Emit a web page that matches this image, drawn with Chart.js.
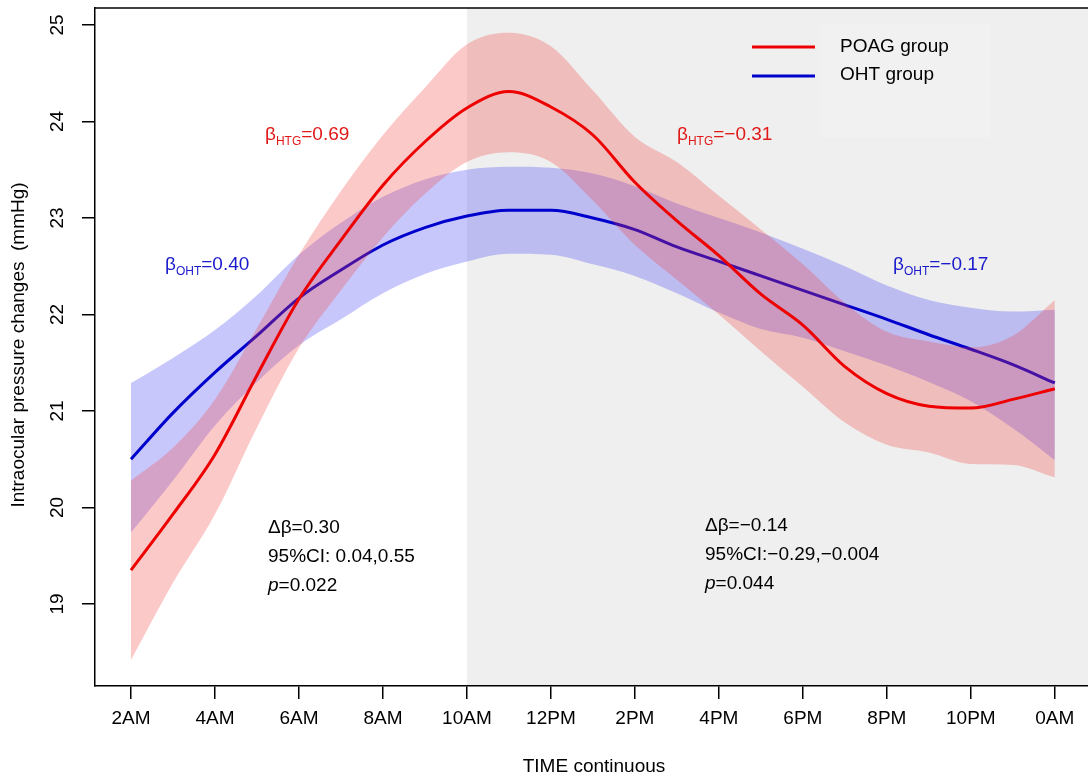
<!DOCTYPE html>
<html>
<head>
<meta charset="utf-8">
<script src="https://cdn.jsdelivr.net/npm/chart.js@4.4.1/dist/chart.umd.min.js"></script>
<style>
  html, body { margin: 0; padding: 0; background: #fff; overflow: hidden; }
  canvas { display: block; }
</style>
</head>
<body>
<canvas id="iop" width="1088" height="778"></canvas>
<script>
"use strict";

// hours after 2AM, one point per hour
const hours = [0, 1, 2, 3, 4, 5, 6, 7, 8, 9, 10, 11, 12, 13, 14, 15, 16, 17, 18, 19, 20, 21, 22];

// POAG group fit + 95% band
const poagFit   = [19.35, 19.93, 20.55, 21.37, 22.16, 22.77, 23.34, 23.79, 24.14, 24.31, 24.15, 23.86, 23.37, 22.97, 22.61, 22.21, 21.89, 21.46, 21.18, 21.05, 21.03, 21.12, 21.23];
const poagUpper = [20.28, 20.62, 21.12, 21.86, 22.62, 23.28, 23.86, 24.35, 24.80, 24.92, 24.78, 24.32, 23.84, 23.58, 23.23, 22.88, 22.52, 22.12, 21.82, 21.72, 21.66, 21.78, 22.15];
const poagLower = [18.42, 19.22, 19.93, 20.83, 21.65, 22.25, 22.80, 23.25, 23.58, 23.68, 23.58, 23.18, 22.72, 22.36, 22.00, 21.62, 21.25, 20.88, 20.65, 20.57, 20.45, 20.44, 20.31];

// OHT group fit + 95% band
const ohtFit   = [20.50, 20.98, 21.40, 21.78, 22.17, 22.46, 22.72, 22.90, 23.02, 23.08, 23.08, 23.00, 22.88, 22.70, 22.55, 22.40, 22.25, 22.10, 21.95, 21.79, 21.64, 21.48, 21.29];
const ohtUpper = [21.29, 21.55, 21.84, 22.20, 22.62, 22.95, 23.22, 23.40, 23.50, 23.53, 23.52, 23.46, 23.33, 23.15, 23.00, 22.85, 22.68, 22.50, 22.30, 22.15, 22.07, 22.03, 22.05];
const ohtLower = [19.74, 20.28, 20.85, 21.30, 21.68, 21.95, 22.22, 22.42, 22.55, 22.63, 22.62, 22.52, 22.40, 22.22, 22.02, 21.85, 21.76, 21.62, 21.47, 21.30, 21.10, 20.82, 20.49];

const xTickPos    = [0, 2, 4, 6, 8, 10, 12, 14, 16, 18, 20, 22];
const xTickLabels = ['2AM', '4AM', '6AM', '8AM', '10AM', '12PM', '2PM', '4PM', '6PM', '8PM', '10PM', '0AM'];
const yTicks = [19, 20, 21, 22, 23, 24, 25];

const shadeFrom = 8; // 10AM onwards is shaded

const FONT = "'Liberation Sans', Arial, sans-serif";

function pts(ys) {
  return hours.map((h, i) => ({ x: h, y: ys[i] }));
}

function band(ys, fill, color, order) {
  return {
    data: pts(ys),
    borderWidth: 0,
    pointRadius: 0,
    fill: fill,
    backgroundColor: color,
    cubicInterpolationMode: 'monotone',
    order: order
  };
}

// beta label with subscript
function beta(ctx, x, y, sub, rest, color) {
  ctx.fillStyle = color;
  ctx.textAlign = 'left';
  ctx.textBaseline = 'alphabetic';
  ctx.font = '19px ' + FONT;
  ctx.fillText('\u03b2', x, y);
  let w = ctx.measureText('\u03b2').width;
  ctx.font = '12px ' + FONT;
  ctx.fillText(sub, x + w, y + 5);
  w += ctx.measureText(sub).width;
  ctx.font = '19px ' + FONT;
  ctx.fillText(rest, x + w, y);
}

const decor = {
  id: 'decor',
  beforeDraw(chart) {
    const { ctx, chartArea: a, scales } = chart;
    const xs = scales.x.getPixelForValue(shadeFrom);
    ctx.save();
    ctx.fillStyle = '#efefef';
    ctx.fillRect(xs, a.top, a.right - xs, a.bottom - a.top);
    // legend panel, a touch lighter
    ctx.fillStyle = '#f1f1f1';
    ctx.fillRect(820, 24, 170, 114);
    ctx.restore();
  },
  afterDraw(chart) {
    const { ctx, chartArea: a, scales } = chart;
    ctx.save();
    // top border of the box
    ctx.strokeStyle = '#000';
    ctx.lineWidth = 1.5;
    ctx.beginPath();
    ctx.moveTo(a.left, a.top);
    ctx.lineTo(a.right, a.top);
    ctx.stroke();

    // y tick labels, rotated like base R
    ctx.fillStyle = '#000';
    ctx.font = '19px ' + FONT;
    ctx.textAlign = 'center';
    ctx.textBaseline = 'middle';
    yTicks.forEach(v => {
      const y = scales.y.getPixelForValue(v);
      ctx.save();
      ctx.translate(58, y);
      ctx.rotate(-Math.PI / 2);
      ctx.fillText(String(v), 0, 0);
      ctx.restore();
    });

    // axis titles
    ctx.font = '19px ' + FONT;
    ctx.save();
    ctx.translate(19, 345);
    ctx.rotate(-Math.PI / 2);
    ctx.fillText('Intraocular pressure changes  (mmHg)', 0, 0);
    ctx.restore();
    ctx.fillText('TIME continuous', 594, 767);

    // legend
    ctx.lineWidth = 3;
    ctx.strokeStyle = '#ee0000';
    ctx.beginPath(); ctx.moveTo(752, 47); ctx.lineTo(815, 47); ctx.stroke();
    ctx.strokeStyle = '#0000cc';
    ctx.beginPath(); ctx.moveTo(752, 76); ctx.lineTo(815, 76); ctx.stroke();
    ctx.fillStyle = '#000';
    ctx.textAlign = 'left';
    ctx.font = '19px ' + FONT;
    ctx.fillText('POAG group', 840, 47);
    ctx.fillText('OHT group', 840, 75);

    // slopes
    beta(ctx, 265, 140, 'HTG', '=0.69', '#e01818');
    beta(ctx, 677, 140, 'HTG', '=\u22120.31', '#e01818');
    beta(ctx, 165, 270, 'OHT', '=0.40', '#1a1acc');
    beta(ctx, 893, 270, 'OHT', '=\u22120.17', '#1a1acc');

    // difference stats
    ctx.fillStyle = '#000';
    ctx.textBaseline = 'middle';
    ctx.font = '19px ' + FONT;
    ctx.fillText('\u0394\u03b2=0.30', 268, 528);
    ctx.fillText('95%CI: 0.04,0.55', 268, 557);
    ctx.font = 'italic 19px ' + FONT;
    ctx.fillText('p', 268, 586);
    let pw = ctx.measureText('p').width;
    ctx.font = '19px ' + FONT;
    ctx.fillText('=0.022', 268 + pw, 586);

    ctx.fillText('\u0394\u03b2=\u22120.14', 705, 526);
    ctx.fillText('95%CI:\u22120.29,\u22120.004', 705, 555);
    ctx.font = 'italic 19px ' + FONT;
    ctx.fillText('p', 705, 584);
    pw = ctx.measureText('p').width;
    ctx.font = '19px ' + FONT;
    ctx.fillText('=0.044', 705 + pw, 584);
    ctx.restore();
  }
};

const chart = new Chart(document.getElementById('iop'), {
  type: 'line',
  data: {
    datasets: [
      { data: pts(poagFit), borderColor: '#ee0000', borderWidth: 3, pointRadius: 0, fill: false, cubicInterpolationMode: 'monotone', order: 1 },
      { data: pts(ohtFit), borderColor: '#0000cc', borderWidth: 3, pointRadius: 0, fill: false, cubicInterpolationMode: 'monotone', order: 4 },
      band(poagUpper, '+1', 'rgba(245, 60, 60, 0.28)', 3),
      band(poagLower, false, 'rgba(0,0,0,0)', 3),
      band(ohtUpper, '+1', 'rgba(70, 70, 245, 0.30)', 5),
      band(ohtLower, false, 'rgba(0,0,0,0)', 5)
    ]
  },
  options: {
    responsive: false,
    animation: false,
    layout: { padding: { top: 8, right: 0, left: 0, bottom: 0 } },
    plugins: {
      legend: { display: false },
      tooltip: { enabled: false }
    },
    scales: {
      x: {
        type: 'linear',
        min: -0.857,
        max: 22.79,
        afterBuildTicks: s => { s.ticks = xTickPos.map(v => ({ value: v })); },
        afterFit: s => { s.height = 92; },
        border: { display: true, color: '#000', width: 1.5 },
        grid: { drawOnChartArea: false, drawTicks: true, tickLength: 13, color: '#000', lineWidth: 1.5 },
        ticks: {
          autoSkip: false,
          maxRotation: 0,
          padding: 8,
          color: '#000',
          font: { family: FONT, size: 19 },
          callback: v => xTickLabels[xTickPos.indexOf(v)]
        }
      },
      y: {
        min: 18.15,
        max: 25.176,
        afterBuildTicks: s => { s.ticks = yTicks.map(v => ({ value: v })); },
        afterFit: s => { s.width = 95; },
        border: { display: true, color: '#000', width: 1.5 },
        grid: { drawOnChartArea: false, drawTicks: true, tickLength: 13, color: '#000', lineWidth: 1.5 },
        ticks: { display: false }
      }
    }
  },
  plugins: [decor]
});
</script>
</body>
</html>
